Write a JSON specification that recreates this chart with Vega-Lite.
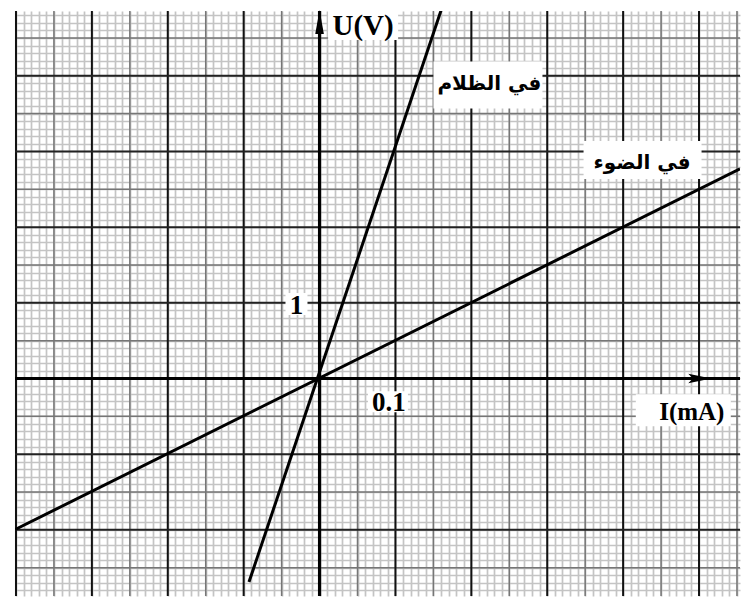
{
  "$schema": "https://vega.github.io/schema/vega-lite/v6.json",
  "width": 742,
  "height": 598,
  "autosize": {"type": "fit", "contains": "padding"},
  "padding": {"left": 13, "top": 9, "right": 0, "bottom": 0},
  "background": "white",
  "config": {
    "view": {"stroke": null},
    "axis": {"labels": false, "ticks": false, "domain": false, "grid": true, "gridColor": "#c4c4c4", "gridWidth": 1.7, "gridOpacity": 1, "title": null},
    "axisX": {"tickCount": 95},
    "axisY": {"tickCount": 77}
  },
  "datasets": {
    "midI": [{"I": -0.35}, {"I": -0.25}, {"I": -0.15}, {"I": -0.05}, {"I": 0.05}, {"I": 0.15}, {"I": 0.25}, {"I": 0.35}, {"I": 0.45}, {"I": 0.55}],
    "majI": [{"I": -0.4}, {"I": -0.3}, {"I": -0.2}, {"I": -0.1}, {"I": 0.1}, {"I": 0.2}, {"I": 0.3}, {"I": 0.4}, {"I": 0.5}],
    "midU": [{"U": -2.5}, {"U": -1.5}, {"U": -0.5}, {"U": 0.5}, {"U": 1.5}, {"U": 2.5}, {"U": 3.5}, {"U": 4.5}],
    "majU": [{"U": -2}, {"U": -1}, {"U": 1}, {"U": 2}, {"U": 3}, {"U": 4}],
    "zeroI": [{"I": 0}],
    "zeroU": [{"U": 0}],
    "curves": [
      {"case": "dark", "I": -0.093, "U": -2.69},
      {"case": "dark", "I": 0.163, "U": 4.95},
      {"case": "light", "I": -0.401, "U": -1.995},
      {"case": "light", "I": 0.554, "U": 2.77}
    ],
    "serifLabels": [
      {"I": 0.0574, "U": 4.66, "t": "U(V)", "f": 29},
      {"I": -0.0304, "U": 0.958, "t": "1", "f": 27},
      {"I": 0.0915, "U": -0.328, "t": "0.1", "f": 27},
      {"I": 0.4905, "U": -0.44, "t": "I(mA)", "f": 25}
    ],
    "arabic": [
      {"I": 0.2238, "U": 3.885, "t": "في الظلام"},
      {"I": 0.425, "U": 2.848, "t": "في الضوء"}
    ],
    "arrowU": [{"I": 0, "U": 4.71}],
    "arrowI": [{"I": 0.501, "U": 0}]
  },
  "layer": [
    {
      "data": {"name": "midI"},
      "mark": {"type": "rule", "color": "#767676", "strokeWidth": 1.5},
      "encoding": {
        "x": {"field": "I", "type": "quantitative", "title": null, "scale": {"domain": [-0.4013, 0.554], "nice": false, "zero": false}}
      }
    },
    {
      "data": {"name": "midU"},
      "mark": {"type": "rule", "color": "#767676", "strokeWidth": 1.5},
      "encoding": {
        "y": {"field": "U", "type": "quantitative", "title": null, "scale": {"domain": [-2.874, 4.856], "nice": false, "zero": false}}
      }
    },
    {
      "data": {"name": "majI"},
      "mark": {"type": "rule", "color": "#111111", "strokeWidth": 2},
      "encoding": {"x": {"field": "I", "type": "quantitative", "title": null}}
    },
    {
      "data": {"name": "majU"},
      "mark": {"type": "rule", "color": "#222222", "strokeWidth": 2},
      "encoding": {"y": {"field": "U", "type": "quantitative", "title": null}}
    },
    {
      "data": {"name": "zeroI"},
      "mark": {"type": "rule", "color": "black", "strokeWidth": 3.2},
      "encoding": {"x": {"field": "I", "type": "quantitative", "title": null}}
    },
    {
      "data": {"name": "zeroU"},
      "mark": {"type": "rule", "color": "black", "strokeWidth": 3.2},
      "encoding": {"y": {"field": "U", "type": "quantitative", "title": null}}
    },
    {
      "data": {"name": "arrowU"},
      "mark": {"type": "point", "shape": "M0,-1L0.36,1L-0.36,1Z", "filled": true, "color": "black", "size": 576, "opacity": 1},
      "encoding": {
        "x": {"field": "I", "type": "quantitative", "title": null},
        "y": {"field": "U", "type": "quantitative", "title": null}
      }
    },
    {
      "data": {"name": "arrowI"},
      "mark": {"type": "point", "shape": "M1,0L-1,-0.42L-0.6,0L-1,0.42Z", "filled": true, "color": "black", "size": 529, "opacity": 1},
      "encoding": {
        "x": {"field": "I", "type": "quantitative", "title": null},
        "y": {"field": "U", "type": "quantitative", "title": null}
      }
    },
    {
      "data": {"name": "curves"},
      "mark": {"type": "line", "color": "black", "strokeWidth": 3, "clip": true},
      "encoding": {
        "x": {"field": "I", "type": "quantitative", "title": null},
        "y": {"field": "U", "type": "quantitative", "title": null},
        "detail": {"field": "case"}
      }
    },
    {
      "data": {"values": [{"I": 0.0574, "U": 4.665}]},
      "mark": {"type": "point", "shape": "M-1,-0.414H1V0.414H-1Z", "filled": true, "color": "white", "size": 4900, "opacity": 1},
      "encoding": {"x": {"field": "I", "type": "quantitative", "title": null}, "y": {"field": "U", "type": "quantitative", "title": null}}
    },
    {
      "data": {"values": [{"I": -0.0304, "U": 0.984}]},
      "mark": {"type": "point", "shape": "M-1,-1H1V1H-1Z", "filled": true, "color": "white", "size": 484, "opacity": 1},
      "encoding": {"x": {"field": "I", "type": "quantitative", "title": null}, "y": {"field": "U", "type": "quantitative", "title": null}}
    },
    {
      "data": {"values": [{"I": 0.0901, "U": -0.308}]},
      "mark": {"type": "point", "shape": "M-1,-0.525H1V0.525H-1Z", "filled": true, "color": "white", "size": 1600, "opacity": 1},
      "encoding": {"x": {"field": "I", "type": "quantitative", "title": null}, "y": {"field": "U", "type": "quantitative", "title": null}}
    },
    {
      "data": {"values": [{"I": 0.4793, "U": -0.42}]},
      "mark": {"type": "point", "shape": "M-1,-0.337H1V0.337H-1Z", "filled": true, "color": "white", "size": 9025, "opacity": 1},
      "encoding": {"x": {"field": "I", "type": "quantitative", "title": null}, "y": {"field": "U", "type": "quantitative", "title": null}}
    },
    {
      "data": {"values": [{"I": 0.2219, "U": 3.878}]},
      "mark": {"type": "point", "shape": "M-1,-0.431H1V0.431H-1Z", "filled": true, "color": "white", "size": 11881, "opacity": 1},
      "encoding": {"x": {"field": "I", "type": "quantitative", "title": null}, "y": {"field": "U", "type": "quantitative", "title": null}}
    },
    {
      "data": {"values": [{"I": 0.4256, "U": 2.887}]},
      "mark": {"type": "point", "shape": "M-1,-0.322H1V0.322H-1Z", "filled": true, "color": "white", "size": 13924, "opacity": 1},
      "encoding": {"x": {"field": "I", "type": "quantitative", "title": null}, "y": {"field": "U", "type": "quantitative", "title": null}}
    },
    {
      "data": {"name": "serifLabels"},
      "mark": {"type": "text", "font": "Liberation Serif", "fontWeight": "bold", "baseline": "middle", "align": "center", "fill": "black"},
      "encoding": {
        "x": {"field": "I", "type": "quantitative", "title": null},
        "y": {"field": "U", "type": "quantitative", "title": null},
        "text": {"field": "t"},
        "size": {"field": "f", "type": "quantitative", "scale": null}
      }
    },
    {
      "data": {"name": "arabic"},
      "mark": {"type": "text", "font": "DejaVu Sans", "fontWeight": "bold", "fontSize": 20, "baseline": "middle", "align": "center", "fill": "black"},
      "encoding": {
        "x": {"field": "I", "type": "quantitative", "title": null},
        "y": {"field": "U", "type": "quantitative", "title": null},
        "text": {"field": "t"}
      }
    }
  ]
}
